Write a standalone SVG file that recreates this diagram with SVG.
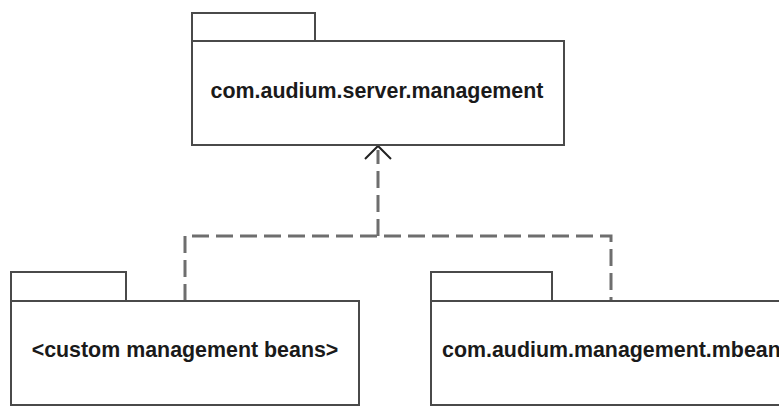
<svg xmlns="http://www.w3.org/2000/svg" width="779" height="407" viewBox="0 0 779 407">
<defs>
<style>
.pkg{fill:#fff;stroke:#4a4a4a;stroke-width:2}
.lbl{font-family:"Liberation Sans",Arial,sans-serif;font-weight:bold;font-size:21.4px;fill:#1a1a1a}
.dep{fill:none;stroke:#6e6e6e;stroke-width:3;stroke-dasharray:17 7}
.arr{fill:none;stroke:#222;stroke-width:2}
</style>
</defs>
<rect width="779" height="407" fill="#fff"/>
<g id="connectors">
<path class="dep" d="M378 236 V150"/>
<path class="dep" d="M185 301 V236 H611 V301"/>
<path class="arr" d="M365 159 L378 146 L391 159"/>
</g>
<g id="server-management">
<rect class="pkg" x="192" y="13" width="123" height="28"/>
<rect class="pkg" x="192" y="41" width="372" height="104"/>
<text class="lbl" x="377" y="98" text-anchor="middle">com.audium.server.management</text>
</g>
<g id="custom-beans">
<rect class="pkg" x="11" y="272" width="115" height="29"/>
<rect class="pkg" x="11" y="301" width="348" height="104"/>
<text class="lbl" x="185" y="357" text-anchor="middle">&lt;custom management beans&gt;</text>
</g>
<g id="mbeans">
<rect class="pkg" x="431" y="272" width="121" height="29"/>
<rect class="pkg" x="431" y="301" width="360" height="104"/>
<text class="lbl" x="442" y="357">com.audium.management.mbean</text>
</g>
</svg>
